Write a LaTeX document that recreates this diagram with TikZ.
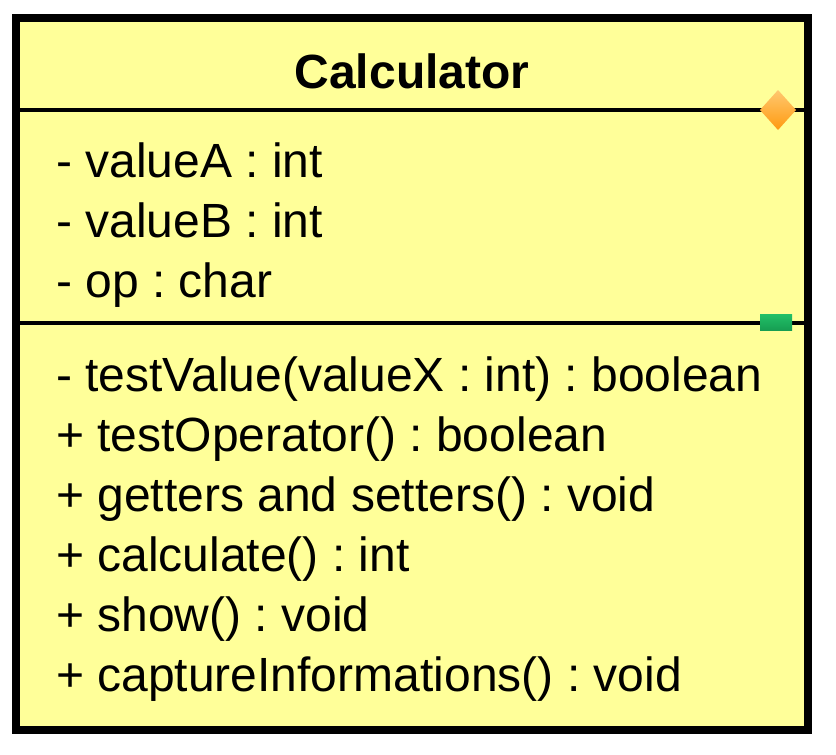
\documentclass[tikz,border=0pt]{standalone}
\usepackage{fontspec}
\setmainfont{Liberation Sans}
\frenchspacing
\begin{document}
\begin{tikzpicture}[x=1pt,y=-1pt,
  member/.style={anchor=base west,inner sep=0pt,font=\fontsize{48}{56}\selectfont},
  classname/.style={anchor=base,inner sep=0pt,font=\fontsize{48}{58}\selectfont\bfseries},
  divider/.style={line width=4pt,black},
  frame/.style={line width=8pt,draw=black,fill=classfill}]
\definecolor{classfill}{HTML}{FFFF99}
\definecolor{dimond}{HTML}{FFC870}
\definecolor{dimondd}{HTML}{FF9A10}
\definecolor{tagtop}{HTML}{22C068}
\definecolor{tagbot}{HTML}{169E52}
\useasboundingbox (0,0) rectangle (836,755);
% class box
\draw[frame] (16,18) rectangle (808,730);
% compartment dividers
\coordinate (d1l) at (20,110);
\coordinate (d1r) at (804,110);
\coordinate (d2l) at (20,323);
\coordinate (d2r) at (804,323);
\draw[divider] (d1l) -- (d1r);
\draw[divider] (d2l) -- (d2r);
% class name
\node[classname] (name) at (412,88) {Calculator};
% attributes
\node[member] (a1) at (56,177) {- valueA : int};
\node[member] (a2) at (56,237) {- valueB : int};
\node[member] (a3) at (56,297) {- op : char};
% operations
\node[member] (m1) at (56,391) {- testValue(valueX : int) : boolean};
\node[member] (m2) at (56,451) {+ testOperator() : boolean};
\node[member] (m3) at (56,511) {+ getters and setters() : void};
\node[member] (m4) at (56,571) {+ calculate() : int};
\node[member] (m5) at (56,631) {+ show() : void};
\node[member] (m6) at (56,691) {+ captureInformations() : void};
% compartment markers
\shade[top color=dimond,bottom color=dimondd]
  (778,90) -- (796,110) -- (778,130) -- (760,110) -- cycle;
\shade[top color=tagtop,bottom color=tagbot] (760,314) rectangle (792,330);
\end{tikzpicture}
\end{document}
